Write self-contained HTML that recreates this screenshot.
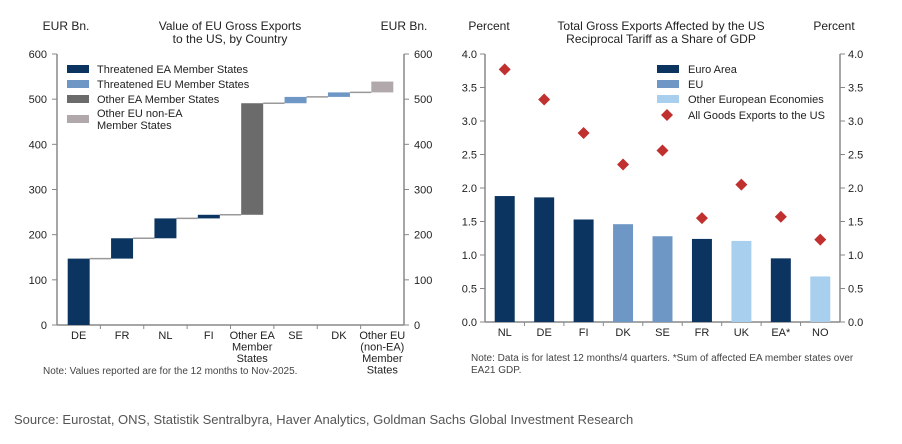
<!DOCTYPE html>
<html><head><meta charset="utf-8"><style>
body{margin:0;background:#fff;width:902px;height:439px;overflow:hidden;font-family:"Liberation Sans",Arial,sans-serif}
svg text{font-family:"Liberation Sans",Arial,sans-serif;fill:#222}
</style></head><body>
<svg id="c" width="902" height="439">
<g id="left"></g>
<g id="right"></g>
<text x="14" y="424" font-size="13" style="fill:#555">Source: Eurostat, ONS, Statistik Sentralbyra, Haver Analytics, Goldman Sachs Global Investment Research</text>
</svg>
<script>
const wfCats=["DE","FR","NL","FI","Other EA|Member|States","SE","DK","Other EU|(non-EA)|Member|States"];
const wfVals=[147,45,44,8,247,14,10,24];
const wfGroups=[0,0,0,0,2,1,1,3];
const leftTicks=[0,100,200,300,400,500,600];
const rCats=["NL","DE","FI","DK","SE","FR","UK","EA*","NO"];
const rBars=[1.88,1.86,1.53,1.46,1.28,1.24,1.21,0.95,0.68];
const rGroups=[0,0,0,1,1,0,2,0,2];
const rDiamonds=[3.77,3.32,2.82,2.35,2.56,1.55,2.05,1.57,1.23];
const rightTicks=[0,0.5,1,1.5,2,2.5,3,3.5,4];
const NS="http://www.w3.org/2000/svg";
function mk(p,t,a,txt){const e=document.createElementNS(NS,t);for(const k in a)e.setAttribute(k,a[k]);if(txt!==undefined)e.textContent=txt;p.appendChild(e);return e;}
const AX="#888";
// LEFT
(function(){
const g=document.getElementById('left');
const x0=57,x1=404,yT=54,yB=325,max=600;
const y=v=>yB-(v/max)*(yB-yT);
const slot=(x1-x0)/wfCats.length;
const cx=i=>x0+slot*(i+0.5);
const cols=["#0b3560","#6f97c6","#6b6b6b","#b0a8aa"];
let e;
e=mk(g,'text',{x:66,y:30,'font-size':12,'text-anchor':'middle'},'EUR Bn.');

e=mk(g,'text',{x:404,y:30,'font-size':12,'text-anchor':'middle'},'EUR Bn.');

e=mk(g,'text',{x:230,y:30,'font-size':12,'text-anchor':'middle'},'Value of EU Gross Exports');

mk(g,'text',{x:230,y:43,'font-size':12,'text-anchor':'middle'},'to the US, by Country');
mk(g,'line',{x1:x0,y1:yT,x2:x0,y2:yB,stroke:AX,'stroke-width':1.5});
mk(g,'line',{x1:x1,y1:yT,x2:x1,y2:yB,stroke:AX,'stroke-width':1.5});
mk(g,'line',{x1:x0,y1:yB,x2:x1,y2:yB,stroke:AX,'stroke-width':1.5});
leftTicks.forEach(t=>{
 mk(g,'line',{x1:x0-5,y1:y(t),x2:x0,y2:y(t),stroke:AX});
 mk(g,'line',{x1:x1,y1:y(t),x2:x1+5,y2:y(t),stroke:AX});
 e=mk(g,'text',{x:x0-10,y:y(t)+4,'font-size':11,'text-anchor':'end'},t);
 
 e=mk(g,'text',{x:x1+10,y:y(t)+4,'font-size':11},t);
 
});
let cum=0;const bw=22;
wfCats.forEach((c,i)=>{
 const s=cum,en=cum+wfVals[i];cum=en;
 if(i<wfCats.length-1) mk(g,'line',{x1:cx(i)+bw/2,y1:y(en),x2:cx(i+1)-bw/2,y2:y(en),stroke:"#999",'stroke-width':1.5});
 e=mk(g,'rect',{x:cx(i)-bw/2,y:y(en),width:bw,height:y(s)-y(en),fill:cols[wfGroups[i]]});
 
 if(i>0) mk(g,'line',{x1:x0+slot*i,y1:yB,x2:x0+slot*i,y2:yB+4,stroke:AX});
 c.split('|').forEach((ln,j)=>{
  e=mk(g,'text',{x:cx(i),y:yB+14+j*11.5,'font-size':11,'text-anchor':'middle'},ln);
  if(j==0){}
 });
});
const leg=[["Threatened EA Member States"],["Threatened EU Member States"],["Other EA Member States"],["Other EU non-EA","Member States"]];
const ly=[69,84,99,119];
leg.forEach((l,i)=>{
 e=mk(g,'rect',{x:67,y:ly[i]-4,width:22,height:8,fill:cols[i]});
 
 l.forEach((t,j)=>{e=mk(g,'text',{x:97,y:ly[i]+4+(l.length>1?(j*12-6):0),'font-size':11},t);
 });
});
e=mk(g,'text',{x:43,y:374,'font-size':10,style:'fill:#444'},'Note: Values reported are for the 12 months to Nov-2025.');

})();
// RIGHT
(function(){
const g=document.getElementById('right');
const x0=485,x1=840,yT=54,yB=322,max=4;
const y=v=>yB-(v/max)*(yB-yT);
const slot=(x1-x0)/rCats.length;
const cx=i=>x0+slot*(i+0.5);
const cols=["#0b3560","#6f97c6","#a9cfee"];
let e;
e=mk(g,'text',{x:489,y:30,'font-size':12,'text-anchor':'middle'},'Percent');

e=mk(g,'text',{x:834,y:30,'font-size':12,'text-anchor':'middle'},'Percent');

e=mk(g,'text',{x:661,y:30,'font-size':12,'text-anchor':'middle'},'Total Gross Exports Affected by the US');

mk(g,'text',{x:661,y:43,'font-size':12,'text-anchor':'middle'},'Reciprocal Tariff as a Share of GDP');
mk(g,'line',{x1:x0,y1:yT,x2:x0,y2:yB,stroke:AX,'stroke-width':1.5});
mk(g,'line',{x1:x1,y1:yT,x2:x1,y2:yB,stroke:AX,'stroke-width':1.5});
mk(g,'line',{x1:x0,y1:yB,x2:x1,y2:yB,stroke:AX,'stroke-width':1.5});
rightTicks.forEach(t=>{
 mk(g,'line',{x1:x0-5,y1:y(t),x2:x0,y2:y(t),stroke:AX});
 mk(g,'line',{x1:x1,y1:y(t),x2:x1+5,y2:y(t),stroke:AX});
 e=mk(g,'text',{x:x0-8,y:y(t)+4,'font-size':11,'text-anchor':'end'},t.toFixed(1));
 
 e=mk(g,'text',{x:x1+8,y:y(t)+4,'font-size':11},t.toFixed(1));
 
});
const bw=20;
rCats.forEach((c,i)=>{
 e=mk(g,'rect',{x:cx(i)-bw/2,y:y(rBars[i]),width:bw,height:yB-y(rBars[i]),fill:cols[rGroups[i]]});
 
 const d=6,py=y(rDiamonds[i]),px=cx(i);
 e=mk(g,'polygon',{points:`${px},${py-d} ${px+d},${py} ${px},${py+d} ${px-d},${py}`,fill:"#c0302f"});
 
 if(i>0) mk(g,'line',{x1:x0+slot*i,y1:yB,x2:x0+slot*i,y2:yB+4,stroke:AX});
 e=mk(g,'text',{x:cx(i),y:yB+14,'font-size':11,'text-anchor':'middle'},c);
 
});
const leg=["Euro Area","EU","Other European Economies","All Goods Exports to the US"];
const ly=[69,84,99,115];
leg.forEach((t,i)=>{
 if(i<3) e=mk(g,'rect',{x:657,y:ly[i]-4,width:22,height:8,fill:cols[i]});
 else e=mk(g,'polygon',{points:`667,${ly[i]-6} 673,${ly[i]} 667,${ly[i]+6} 661,${ly[i]}`,fill:"#c0302f"});
 
 e=mk(g,'text',{x:688,y:ly[i]+4,'font-size':11},t);
 
});
e=mk(g,'text',{x:471,y:361,'font-size':10,style:'fill:#444'},'Note: Data is for latest 12 months/4 quarters. *Sum of affected EA member states over');

mk(g,'text',{x:471,y:373,'font-size':10,style:'fill:#444'},'EA21 GDP.');
})();
</script>
</body></html>
